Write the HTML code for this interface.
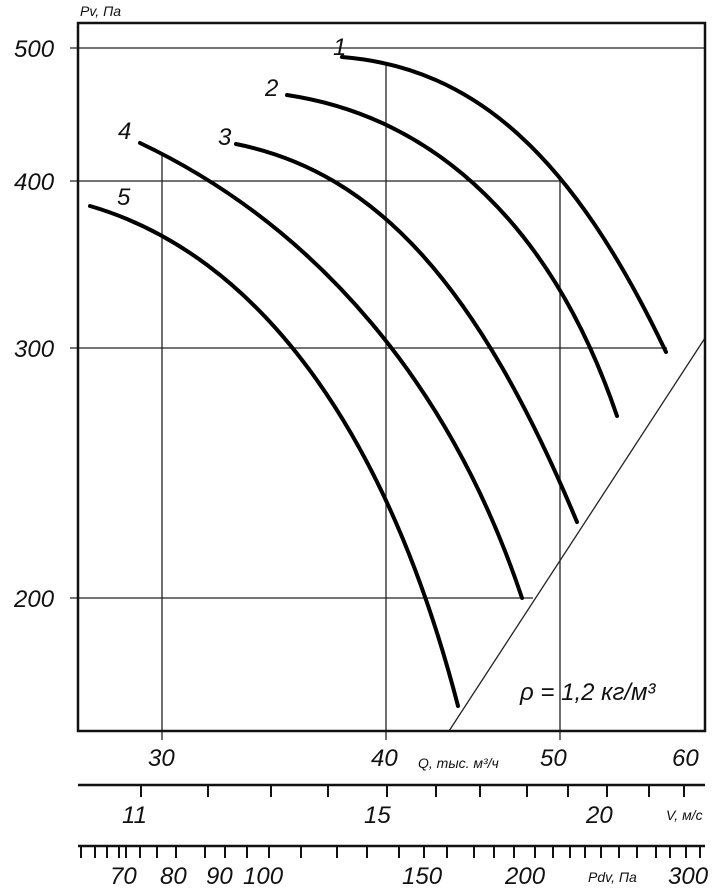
<!DOCTYPE html>
<html><head><meta charset="utf-8"><style>
html,body{margin:0;padding:0;background:#fff}
svg{display:block}
text{font-family:"Liberation Sans","DejaVu Sans",sans-serif;font-style:italic;fill:#111}
.big{font-size:24px}
.sm{font-size:14px}
</style></head><body>
<svg width="726" height="893" viewBox="0 0 726 893" xmlns="http://www.w3.org/2000/svg">
<g stroke="#222" stroke-width="1.3" fill="none">
<line x1="70" y1="48" x2="705" y2="48"/>
<line x1="70" y1="181" x2="560" y2="181"/>
<line x1="70" y1="348" x2="667" y2="348"/>
<line x1="70" y1="598" x2="533" y2="598"/>
<line x1="162" y1="152" x2="162" y2="740"/>
<line x1="386" y1="63" x2="386" y2="740"/>
<line x1="560" y1="181" x2="560" y2="740"/>
<line x1="449" y1="731" x2="705" y2="338"/>
</g>
<rect x="78" y="23" width="627" height="708" fill="none" stroke="#111" stroke-width="2.5"/>
<g stroke="#000" stroke-width="4" fill="none" stroke-linecap="round">
<path d="M342,57 C475.6,67.7 572.8,156.2 666,352"/>
<path d="M287,95 C438.3,117.7 553.8,230 617,416"/>
<path d="M236,144 C376,172 478.4,285.4 577,522"/>
<path d="M140,143 C317.9,227.5 451.6,386.7 522,598"/>
<path d="M90,206 C257.6,254.6 386.4,429.6 458,706"/>
</g>
<text class="big" x="333" y="55">1</text>
<text class="big" x="265" y="96">2</text>
<text class="big" x="218" y="145">3</text>
<text class="big" x="118" y="139">4</text>
<text class="big" x="117" y="205">5</text>
<text class="sm" x="80" y="16">Pv, Па</text>
<text class="big" x="14" y="57">500</text>
<text class="big" x="14" y="190">400</text>
<text class="big" x="14" y="357">300</text>
<text class="big" x="14" y="607">200</text>
<text class="big" x="520" y="700">ρ = 1,2 кг/м³</text>
<text class="big" x="148" y="766">30</text>
<text class="big" x="371" y="766">40</text>
<text class="sm" x="418" y="768">Q, тыс. м³/ч</text>
<text class="big" x="540" y="766">50</text>
<text class="big" x="672" y="766">60</text>
<line x1="78" y1="785" x2="705" y2="785" stroke="#111" stroke-width="2.5"/>
<g stroke="#111" stroke-width="2">
<line x1="141" y1="785" x2="141" y2="797"/><line x1="208" y1="785" x2="208" y2="797"/>
<line x1="271" y1="785" x2="271" y2="797"/><line x1="328" y1="785" x2="328" y2="797"/>
<line x1="387" y1="785" x2="387" y2="797"/><line x1="436" y1="785" x2="436" y2="797"/>
<line x1="480" y1="785" x2="480" y2="797"/><line x1="527" y1="785" x2="527" y2="797"/>
<line x1="568" y1="785" x2="568" y2="797"/><line x1="607" y1="785" x2="607" y2="797"/>
<line x1="649" y1="785" x2="649" y2="797"/><line x1="684" y1="785" x2="684" y2="797"/>
</g>
<text class="big" x="122" y="823">11</text>
<text class="big" x="364" y="823">15</text>
<text class="big" x="586" y="823">20</text>
<text class="sm" x="666" y="820">V, м/с</text>
<line x1="78" y1="846" x2="705" y2="846" stroke="#111" stroke-width="2.5"/>
<g stroke="#111" stroke-width="2">
<line x1="81" y1="846" x2="81" y2="858"/><line x1="95" y1="846" x2="95" y2="858"/>
<line x1="107" y1="846" x2="107" y2="858"/><line x1="119" y1="846" x2="119" y2="858"/>
<line x1="126" y1="846" x2="126" y2="858"/><line x1="140" y1="846" x2="140" y2="858"/>
<line x1="157" y1="846" x2="157" y2="858"/><line x1="176" y1="846" x2="176" y2="858"/>
<line x1="205" y1="846" x2="205" y2="858"/><line x1="225" y1="846" x2="225" y2="858"/>
<line x1="247" y1="846" x2="247" y2="858"/><line x1="269" y1="846" x2="269" y2="858"/>
<line x1="301" y1="846" x2="301" y2="858"/><line x1="337" y1="846" x2="337" y2="858"/>
<line x1="367" y1="846" x2="367" y2="858"/><line x1="399" y1="846" x2="399" y2="858"/>
<line x1="424" y1="846" x2="424" y2="858"/><line x1="447" y1="846" x2="447" y2="858"/>
<line x1="474" y1="846" x2="474" y2="858"/><line x1="494" y1="846" x2="494" y2="858"/>
<line x1="514" y1="846" x2="514" y2="858"/><line x1="535" y1="846" x2="535" y2="858"/>
<line x1="553" y1="846" x2="553" y2="858"/><line x1="570" y1="846" x2="570" y2="858"/>
<line x1="585" y1="846" x2="585" y2="858"/><line x1="601" y1="846" x2="601" y2="858"/>
<line x1="619" y1="846" x2="619" y2="858"/><line x1="637" y1="846" x2="637" y2="858"/>
<line x1="656" y1="846" x2="656" y2="858"/><line x1="670" y1="846" x2="670" y2="858"/>
<line x1="686" y1="846" x2="686" y2="858"/><line x1="700" y1="846" x2="700" y2="858"/>
</g>
<text class="big" x="110" y="884">70</text>
<text class="big" x="160" y="884">80</text>
<text class="big" x="206" y="884">90</text>
<text class="big" x="243" y="884">100</text>
<text class="big" x="402" y="884">150</text>
<text class="big" x="505" y="884">200</text>
<text class="sm" x="588" y="882">Pdv, Па</text>
<text class="big" x="668" y="884">300</text>
</svg>
</body></html>
